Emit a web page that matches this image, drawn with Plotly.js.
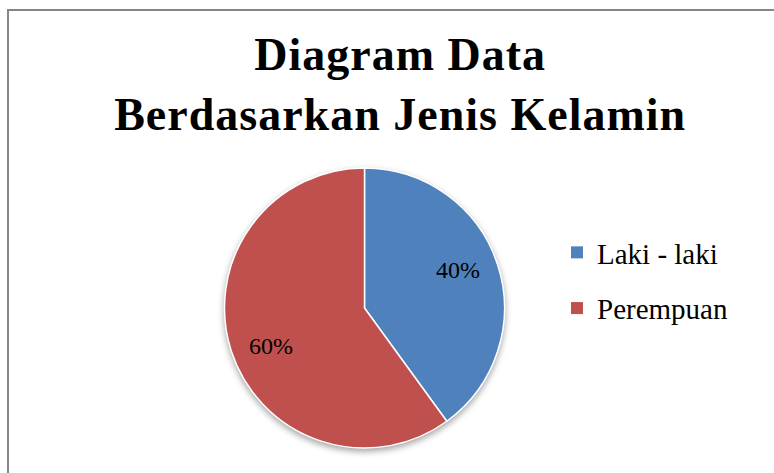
<!DOCTYPE html>
<html>
<head>
<meta charset="utf-8">
<script src="https://cdn.plot.ly/plotly-3.0.1.min.js"></script>
<style>
html, body { margin: 0; padding: 0; background: #fff; }
#chart { width: 774px; height: 473px; }
g.pielayer g.trace { filter: drop-shadow(0px 3px 3px rgba(0,0,0,0.35)); }
.gtitle { letter-spacing: 1px; }
</style>
</head>
<body>
<div id="chart"></div>
<script>
const chartTitle = "Diagram Data<br>Berdasarkan Jenis Kelamin";
const categories = ["Laki - laki", "Perempuan"];
const values = [40, 60];
const colors = ["#4F81BD", "#C0504D"];

const W = 774, H = 473;
const cx = 364.5, cy = 308, r = 140;
const serif = "Liberation Serif, Times New Roman, serif";

const traces = [{
  type: "pie",
  labels: categories,
  values: values,
  sort: false,
  direction: "clockwise",
  rotation: 0,
  textinfo: "none",
  showlegend: false,
  marker: { colors: colors, line: { color: "#ffffff", width: 1.5 } },
  domain: { x: [(cx - r) / W, (cx + r) / W], y: [(H - cy - r) / H, (H - cy + r) / H] },
  hoverinfo: "label+percent"
}];

categories.forEach((c, i) => {
  traces.push({
    type: "scatter", mode: "markers",
    x: [null], y: [null],
    name: c, legendgroup: "g" + i,
    marker: { symbol: "square", size: 12, color: colors[i] },
    showlegend: true, hoverinfo: "skip"
  });
});

// percent labels placed inside each slice, computed from the values
const total = values.reduce((a, b) => a + b, 0);
const annotations = [];
let acc = 0;
const labelAngleShift = -4 * Math.PI / 180;
values.forEach((v, i) => {
  const mid = (acc + v / 2) / total * 2 * Math.PI + labelAngleShift;
  acc += v;
  const rr = 0.72 * r;
  const px = cx + rr * Math.sin(mid);
  const py = cy - rr * Math.cos(mid);
  annotations.push({
    xref: "paper", yref: "paper",
    x: px / W, y: 1 - py / H,
    xanchor: "center", yanchor: "middle",
    text: Math.round(v / total * 100) + "%",
    showarrow: false,
    font: { family: serif, size: 24, color: "#000" }
  });
});

const layout = {
  width: W, height: H,
  margin: { l: 0, r: 0, t: 0, b: 0 },
  paper_bgcolor: "#ffffff",
  plot_bgcolor: "rgba(0,0,0,0)",
  xaxis: { visible: false, domain: [0, 1] },
  yaxis: { visible: false, domain: [0, 1] },
  title: {
    text: chartTitle,
    font: { family: serif, size: 46, color: "#000", weight: "bold" },
    x: 0.517, xanchor: "center",
    y: 1 - 70 / H, yanchor: "top"
  },
  showlegend: true,
  legend: {
    x: 557 / W, xanchor: "left",
    y: 1 - 227 / H, yanchor: "top",
    font: { family: serif, size: 29, color: "#000" },
    bgcolor: "rgba(0,0,0,0)",
    traceorder: "grouped",
    tracegroupgap: 15,
    itemwidth: 30
  },
  annotations: annotations,
  shapes: [{
    type: "rect", xref: "paper", yref: "paper",
    x0: 8 / W, x1: 1.05, y0: -0.05, y1: 1 - 10 / H,
    line: { color: "#868686", width: 2 }, fillcolor: "rgba(0,0,0,0)"
  }]
};

Plotly.newPlot("chart", traces, layout, { displayModeBar: false, staticPlot: true });
</script>
</body>
</html>
